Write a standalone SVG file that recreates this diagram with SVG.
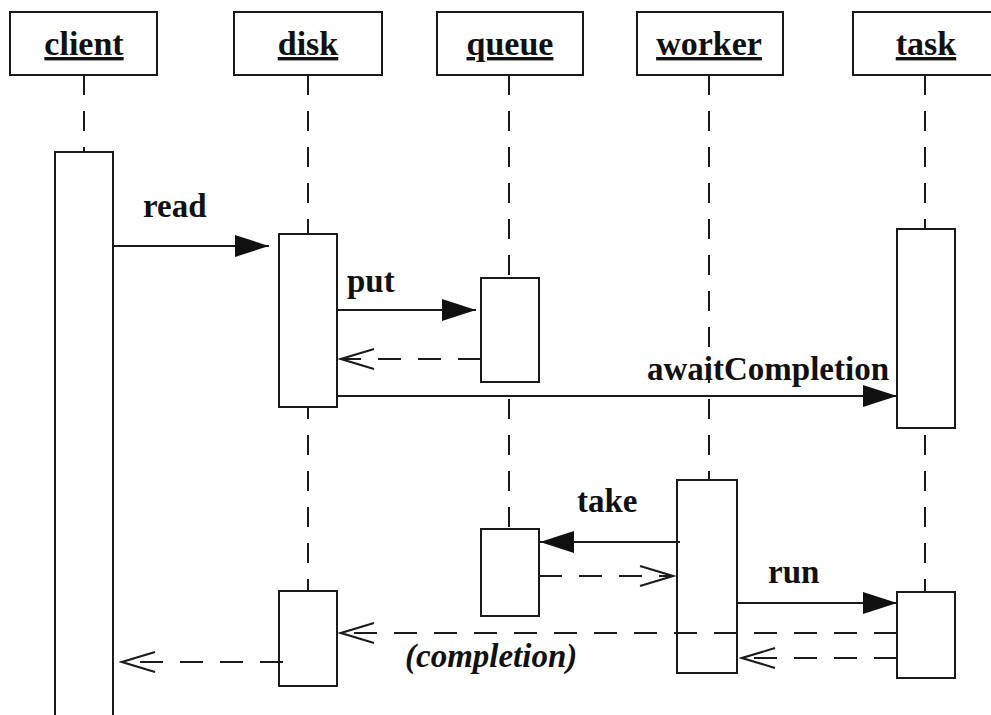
<svg xmlns="http://www.w3.org/2000/svg" width="991" height="715" viewBox="0 0 991 715">
<style>
.hdr{fill:#fff;stroke:#1a1a1a;stroke-width:2}
.act{fill:#fff;stroke:#1a1a1a;stroke-width:2}
.life{stroke:#1a1a1a;stroke-width:2;stroke-dasharray:20 16;fill:none}
.name{font-family:"Liberation Serif","Times New Roman",serif;font-weight:bold;font-size:34px;fill:#111;text-anchor:middle;text-decoration:underline}
.lbl{font-family:"Liberation Serif","Times New Roman",serif;font-weight:bold;font-size:33px;fill:#111}
.it{font-style:italic}
.msg{stroke:#1a1a1a;stroke-width:2;fill:none}
.ret{stroke:#1a1a1a;stroke-width:2;fill:none;stroke-dasharray:23 17}
</style>
<defs>
<marker id="filled" viewBox="0 0 34 22" markerWidth="34" markerHeight="22" refX="34" refY="11" orient="auto" markerUnits="userSpaceOnUse">
<path d="M0,0 L34,11 L0,22 z" fill="#111" stroke="none"/>
</marker>
<marker id="open" viewBox="-2 -2 38 26" markerWidth="38" markerHeight="26" refX="33" refY="11" orient="auto" markerUnits="userSpaceOnUse">
<path d="M0,1 L33,11 L0,21" fill="none" stroke="#1a1a1a" stroke-width="2" stroke-dasharray="none"/>
</marker>
</defs>
<rect width="991" height="715" fill="#fff"/>

<g id="client">
<line class="life" x1="84" y1="75" x2="84" y2="152"/>
<rect class="hdr" x="10" y="12" width="147" height="63"/>
<text class="name" x="84" y="55">client</text>
<rect class="act" x="55" y="152" width="58" height="580"/>
</g>

<g id="disk">
<line class="life" x1="308" y1="75" x2="308" y2="591"/>
<rect class="hdr" x="234" y="12" width="148" height="63"/>
<text class="name" x="308" y="55">disk</text>
<rect class="act" x="279" y="234" width="58" height="173"/>
<rect class="act" x="279" y="591" width="58" height="95"/>
</g>

<g id="queue">
<line class="life" x1="509" y1="75" x2="509" y2="529"/>
<rect class="hdr" x="437" y="12" width="146" height="63"/>
<text class="name" x="510" y="55">queue</text>
<rect class="act" x="481" y="278" width="58" height="104"/>
<rect class="act" x="481" y="529" width="58" height="87"/>
</g>

<g id="worker">
<line class="life" x1="709" y1="75" x2="709" y2="480"/>
<rect class="hdr" x="637" y="12" width="146" height="63"/>
<text class="name" x="709" y="55">worker</text>
<rect class="act" x="677" y="480" width="60" height="193"/>
</g>

<g id="task">
<line class="life" x1="925" y1="75" x2="925" y2="592"/>
<rect class="hdr" x="853" y="12" width="146" height="63"/>
<text class="name" x="926" y="55">task</text>
<rect class="act" x="897" y="229" width="58" height="199"/>
<rect class="act" x="897" y="592" width="58" height="86"/>
</g>

<g id="connectors">
<line class="msg" x1="113" y1="246" x2="269" y2="246" marker-end="url(#filled)"/>
<text class="lbl" x="143" y="217">read</text>
<line class="msg" x1="337" y1="310" x2="476" y2="310" marker-end="url(#filled)"/>
<text class="lbl" x="347" y="292">put</text>
<line class="ret" x1="481" y1="359" x2="341" y2="359" marker-end="url(#open)"/>
<line class="msg" x1="337" y1="396" x2="897" y2="396" marker-end="url(#filled)"/>
<text class="lbl" x="889" y="380" text-anchor="end">awaitCompletion</text>
<line class="msg" x1="680" y1="542" x2="540" y2="542" marker-end="url(#filled)"/>
<text class="lbl" x="577" y="512">take</text>
<line class="ret" x1="539" y1="576" x2="673" y2="576" marker-end="url(#open)"/>
<line class="msg" x1="737" y1="603" x2="897" y2="603" marker-end="url(#filled)"/>
<text class="lbl" x="768" y="583">run</text>
<line class="ret" x1="897" y1="633" x2="341" y2="633" marker-end="url(#open)"/>
<text class="lbl it" x="405" y="667">(completion)</text>
<line class="ret" x1="897" y1="658" x2="742" y2="658" marker-end="url(#open)"/>
<line class="ret" x1="283" y1="662" x2="122" y2="662" marker-end="url(#open)"/>
</g>
</svg>
